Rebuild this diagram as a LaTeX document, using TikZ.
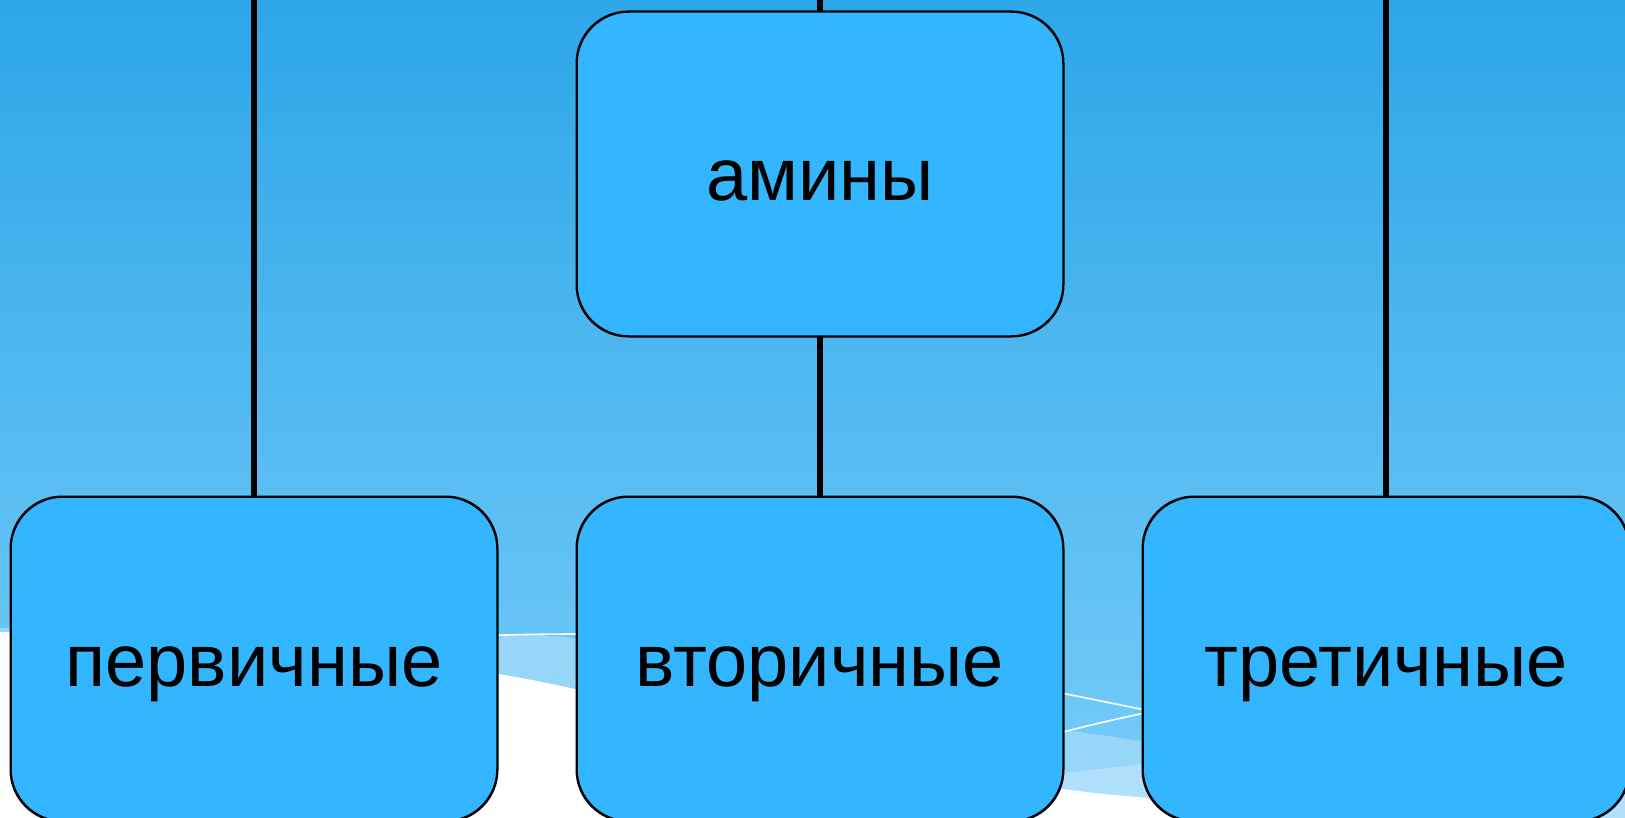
\documentclass[tikz,border=0pt]{standalone}
\usepackage{fontspec}
\setmainfont{Liberation Sans}
\definecolor{bgtop}{RGB}{45,166,232}
\definecolor{bgbot}{RGB}{120,205,250}
\definecolor{boxfill}{RGB}{51,181,255}
\definecolor{bandA}{RGB}{151,214,249}
\definecolor{bandB}{RGB}{176,224,251}
\tikzset{
  catbox/.style={draw=black, line width=1.5pt, fill=boxfill, rounded corners=52pt,
    minimum width=486pt, minimum height=324pt, inner sep=0pt,
    font=\fontsize{74pt}{88pt}\selectfont, text height=68pt, text depth=14pt},
  link/.style={draw=black, line width=6pt},
  wline/.style={draw=white, line width=1.6pt}
}
\begin{document}
\begin{tikzpicture}[x=1pt,y=-1pt]
\useasboundingbox (0,0) rectangle (1625,818);
% background
\fill[top color=bgtop, bottom color=bgbot] (0,0) rectangle (1625,818);
\fill[bandA] (0,628) .. controls (200,632) and (400,634) .. (540,635)
  .. controls (750,650) and (950,715) .. (1100,735)
  .. controls (1300,765) and (1500,785) .. (1625,790) -- (1625,830) -- (0,830) -- cycle;
\fill[bandB] (700,840) .. controls (850,805) and (1000,780) .. (1100,769)
  .. controls (1300,745) and (1500,725) .. (1625,715) -- (1625,830) -- cycle;
\fill[white] (0,632) .. controls (250,642) and (420,658) .. (537,681)
  .. controls (750,725) and (950,778) .. (1104,794)
  .. controls (1300,812) and (1500,820) .. (1625,822) -- (1625,830) -- (0,830) -- cycle;
\draw[wline] (420,637) .. controls (480,636) and (520,634) .. (577,634)
  .. controls (800,640) and (950,670) .. (1150,711);
\draw[wline] (900,780) .. controls (980,755) and (1060,730) .. (1150,712);
% connector end points
\coordinate (ctop) at (820,0);
\coordinate (ltop) at (254,0);
\coordinate (rtop) at (1386,0);
% nodes
\node[catbox] (amines) at (820,174) {амины};
\node[catbox] (prim) at (254,659) {первичные};
\node[catbox] (sec) at (820,659) {вторичные};
\node[catbox] (tert) at (1386,659) {третичные};
% connectors
\draw[link] (ctop) -- (amines.north);
\draw[link] (amines.south) -- (sec.north);
\draw[link] (ltop) -- (prim.north);
\draw[link] (rtop) -- (tert.north);
% box outlines over the connector ends
\foreach \n in {amines,prim,sec,tert}{
  \draw[black, line width=1.5pt, rounded corners=52pt] (\n.south west) rectangle (\n.north east);
}
\end{tikzpicture}
\end{document}
